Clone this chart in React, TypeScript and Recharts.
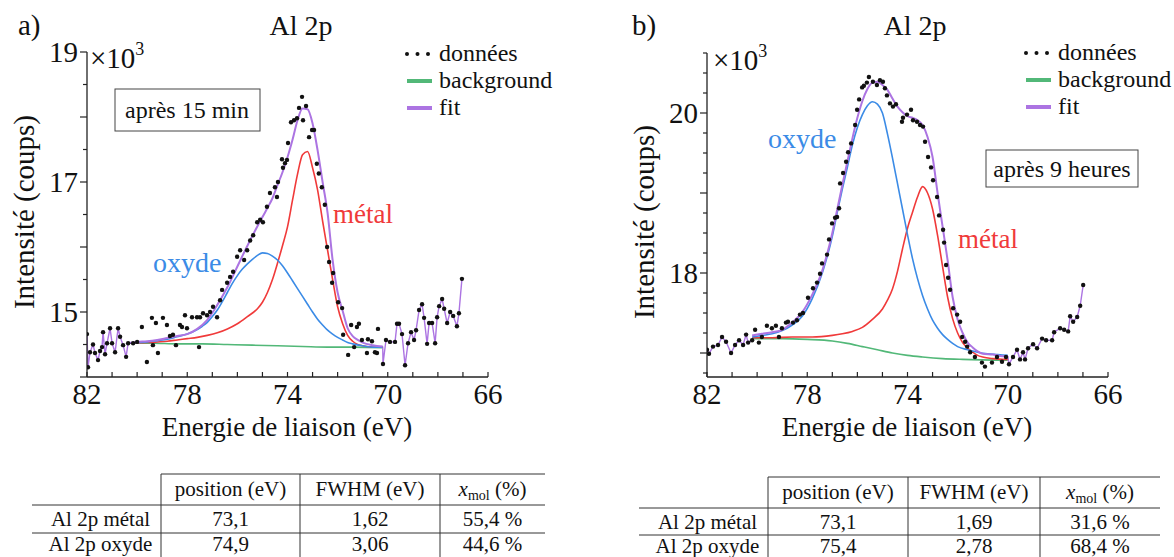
import { ComposedChart, Line, XAxis, YAxis } from "recharts";

type Pt = [number, number];

const SERIF = '"Liberation Serif", serif';

// energies (eV) / intensities (x10^3 coups)
// ---- a) après 15 min
const donneesA: Pt[] = [
	[82.0, 14.66], [81.96, 14.15], [81.88, 14.38], [81.76, 14.5], [81.68, 14.37], [81.56, 14.26],
	[81.48, 14.4], [81.4, 14.46], [81.36, 14.69], [81.28, 14.35], [81.2, 14.52], [81.08, 14.75],
	[81.0, 14.52], [80.88, 14.38], [80.76, 14.75], [80.68, 14.62], [80.56, 14.49], [80.44, 14.31],
	[80.36, 14.52], [80.16, 14.52], [80.0, 14.54], [79.81, 14.77], [79.61, 14.23], [79.41, 14.91],
	[79.37, 14.49], [79.25, 14.83], [79.17, 14.37], [78.97, 14.91], [78.81, 14.8], [78.69, 14.63],
	[78.57, 14.65], [78.45, 14.49], [78.29, 14.8], [78.21, 14.77], [78.09, 14.95], [78.01, 14.75],
	[77.81, 14.92], [77.61, 14.92], [77.53, 14.46], [77.49, 14.92], [77.37, 14.98], [77.21, 14.95],
	[77.09, 15.0], [76.97, 15.08], [76.81, 14.92], [76.69, 15.18], [76.61, 15.34], [76.41, 15.45],
	[76.29, 15.54], [76.17, 15.62], [76.01, 15.85], [75.89, 15.95], [75.73, 15.8], [75.61, 15.95],
	[75.49, 16.1], [75.37, 16.18], [75.21, 16.38], [75.09, 16.42], [74.98, 16.38], [74.82, 16.62],
	[74.7, 16.83], [74.5, 16.92], [74.42, 16.77], [74.38, 17.0], [74.22, 17.35], [74.18, 17.22],
	[74.1, 17.29], [74.02, 17.34], [73.98, 17.6], [73.86, 17.92], [73.74, 17.95], [73.62, 17.98],
	[73.54, 18.14], [73.42, 18.31], [73.38, 17.95], [73.26, 18.17], [73.14, 17.69], [73.02, 17.8],
	[72.94, 17.8], [72.83, 17.28], [72.75, 17.13], [72.63, 16.92], [72.51, 16.65], [72.42, 16.0],
	[72.34, 15.77], [72.22, 15.45], [72.18, 15.6], [71.98, 15.15], [71.82, 15.06], [71.78, 14.65],
	[71.58, 14.34], [71.46, 14.8], [71.34, 14.46], [71.23, 14.77], [71.15, 14.82], [71.03, 14.57],
	[70.83, 14.37], [70.79, 14.58], [70.63, 14.55], [70.51, 14.38], [70.43, 14.37], [70.39, 14.74],
	[70.19, 14.2], [70.07, 14.57], [69.91, 14.54], [69.71, 14.54], [69.63, 14.82], [69.55, 14.82],
	[69.43, 14.66], [69.31, 14.18], [69.19, 14.52], [69.07, 14.69], [68.95, 14.57], [68.87, 14.72],
	[68.75, 15.03], [68.63, 15.12], [68.55, 14.91], [68.43, 14.51], [68.35, 14.83], [68.23, 14.83],
	[68.11, 14.52], [68.03, 14.92], [67.95, 15.09], [67.83, 15.2], [67.75, 15.05], [67.63, 14.83],
	[67.51, 15.0], [67.39, 14.94], [67.24, 14.78], [67.16, 14.98], [67.04, 15.51],
];
const fitA: Pt[] = [
	[80.4, 14.52], [80.0, 14.54], [79.6, 14.55], [79.2, 14.57], [78.8, 14.6], [78.4, 14.63],
	[78.0, 14.66], [77.6, 14.74], [77.2, 14.88], [76.8, 15.11], [76.4, 15.38], [76.0, 15.7],
	[75.6, 16.02], [75.2, 16.32], [74.8, 16.6], [74.6, 16.75], [74.4, 16.95], [74.2, 17.15],
	[74.0, 17.38], [73.8, 17.65], [73.6, 17.95], [73.4, 18.13], [73.2, 18.12], [73.0, 17.9],
	[72.8, 17.49], [72.6, 17.0], [72.4, 16.52], [72.2, 15.8], [72.0, 15.3], [71.8, 15.02],
	[71.6, 14.75], [71.4, 14.63], [71.2, 14.57], [71.0, 14.53], [70.6, 14.49], [70.2, 14.47],
];
const metalA: Pt[] = [
	[80.4, 14.52], [79.6, 14.53], [78.8, 14.55], [78.4, 14.57], [78.0, 14.59], [77.6, 14.61],
	[77.2, 14.64], [76.8, 14.68], [76.4, 14.74], [76.0, 14.82], [75.6, 14.93], [75.2, 15.05],
	[75.0, 15.15], [74.8, 15.3], [74.6, 15.5], [74.4, 15.75], [74.2, 16.02], [74.0, 16.31],
	[73.8, 16.72], [73.6, 17.12], [73.4, 17.42], [73.2, 17.47], [73.0, 17.22], [72.8, 16.88],
	[72.6, 16.4], [72.4, 15.95], [72.2, 15.5], [72.0, 15.08], [71.8, 14.82], [71.6, 14.64],
	[71.4, 14.55], [71.2, 14.5], [71.0, 14.48], [70.6, 14.46], [70.2, 14.46],
];
const oxydeA: Pt[] = [
	[80.4, 14.52], [80.0, 14.53], [79.6, 14.54], [79.2, 14.56], [78.8, 14.58], [78.4, 14.62],
	[78.0, 14.66], [77.6, 14.73], [77.4, 14.78], [77.2, 14.84], [77.0, 14.93], [76.8, 15.03],
	[76.6, 15.16], [76.4, 15.3], [76.2, 15.44], [76.0, 15.56], [75.8, 15.66], [75.6, 15.74],
	[75.4, 15.81], [75.2, 15.87], [75.0, 15.91], [74.8, 15.9], [74.6, 15.86], [74.4, 15.8],
	[74.2, 15.71], [74.0, 15.6], [73.8, 15.48], [73.6, 15.36], [73.4, 15.24], [73.2, 15.12],
	[73.0, 15.0], [72.8, 14.89], [72.6, 14.8], [72.4, 14.72], [72.2, 14.66], [72.0, 14.61],
	[71.8, 14.57], [71.6, 14.53], [71.4, 14.51], [71.0, 14.48], [70.6, 14.46], [70.2, 14.46],
];
const backgroundA: Pt[] = [
	[80.4, 14.52], [79.4, 14.52], [78.4, 14.51], [77.4, 14.51], [76.4, 14.5], [75.4, 14.49],
	[74.4, 14.48], [73.4, 14.47], [72.4, 14.46], [71.4, 14.46], [70.2, 14.45],
];

// ---- b) après 9 heures
const donneesB: Pt[] = [
	[82.0, 17.04], [81.92, 16.99], [81.76, 17.08], [81.56, 17.1], [81.4, 17.2], [81.24, 17.14],
	[81.04, 17.0], [80.88, 17.1], [80.72, 17.16], [80.56, 17.1], [80.44, 17.23], [80.36, 17.13],
	[80.2, 17.16], [80.08, 17.29], [79.93, 17.13], [79.81, 17.2], [79.61, 17.34], [79.41, 17.31],
	[79.25, 17.34], [79.13, 17.2], [79.01, 17.31], [78.85, 17.38], [78.77, 17.39], [78.57, 17.38],
	[78.41, 17.41], [78.29, 17.48], [78.17, 17.5], [77.97, 17.69], [77.77, 17.81], [77.61, 17.88],
	[77.49, 17.99], [77.41, 18.12], [77.21, 18.23], [77.13, 18.42], [77.01, 18.62], [76.89, 18.69],
	[76.81, 18.7], [76.73, 18.81], [76.69, 19.12], [76.57, 19.25], [76.45, 19.39], [76.37, 19.51],
	[76.25, 19.62], [76.09, 19.85], [76.01, 20.04], [75.93, 20.17], [75.81, 20.32], [75.74, 20.34],
	[75.62, 20.38], [75.54, 20.45], [75.38, 20.39], [75.22, 20.35], [75.1, 20.41], [74.98, 20.39],
	[74.9, 20.31], [74.82, 20.22], [74.7, 20.12], [74.58, 20.08], [74.46, 20.11], [74.22, 19.89],
	[74.18, 19.94], [74.02, 19.98], [73.86, 20.04], [73.78, 19.91], [73.62, 19.89], [73.5, 19.85],
	[73.38, 19.83], [73.3, 19.64], [73.18, 19.45], [73.06, 19.32], [72.98, 19.16], [72.82, 18.95],
	[72.74, 18.72], [72.58, 18.54], [72.54, 18.38], [72.46, 18.1], [72.38, 17.94], [72.3, 17.79],
	[72.18, 17.56], [72.02, 17.48], [71.9, 17.39], [71.82, 17.2], [71.7, 17.14], [71.62, 17.08],
	[71.5, 17.01], [71.31, 16.95], [71.03, 16.88], [70.91, 16.83], [70.63, 16.88], [70.43, 16.95],
	[70.23, 16.89], [70.07, 16.95], [69.95, 16.86], [69.79, 16.95], [69.63, 17.04], [69.51, 16.92],
	[69.39, 17.01], [69.31, 16.92], [69.19, 17.06], [68.99, 17.11], [68.83, 17.06], [68.63, 17.18],
	[68.47, 17.16], [68.23, 17.16], [68.15, 17.26], [67.91, 17.31], [67.75, 17.29], [67.59, 17.27],
	[67.51, 17.46], [67.39, 17.39], [67.23, 17.45], [67.11, 17.59], [66.99, 17.85],
];
const fitB: Pt[] = [
	[80.2, 17.22], [79.8, 17.24], [79.4, 17.26], [79.0, 17.29], [78.6, 17.38], [78.2, 17.51],
	[77.8, 17.73], [77.4, 18.03], [77.0, 18.5], [76.8, 18.8], [76.6, 19.1], [76.4, 19.39],
	[76.2, 19.68], [76.0, 19.94], [75.8, 20.15], [75.6, 20.3], [75.4, 20.38], [75.2, 20.39],
	[75.0, 20.35], [74.8, 20.29], [74.6, 20.18], [74.4, 20.08], [74.2, 20.01], [74.0, 19.96],
	[73.8, 19.94], [73.6, 19.91], [73.4, 19.85], [73.2, 19.7], [73.0, 19.45], [72.8, 19.0],
	[72.6, 18.58], [72.4, 18.16], [72.2, 17.7], [72.0, 17.42], [71.8, 17.25], [71.6, 17.13],
	[71.4, 17.07], [71.2, 17.02], [71.0, 16.99], [70.6, 16.98], [70.2, 16.96], [70.0, 16.96],
];
const metalB: Pt[] = [
	[80.2, 17.19], [79.4, 17.19], [78.6, 17.2], [77.8, 17.2], [77.0, 17.22], [76.6, 17.24],
	[76.2, 17.27], [75.8, 17.32], [75.4, 17.42], [75.0, 17.55], [74.8, 17.66], [74.6, 17.8],
	[74.4, 18.02], [74.2, 18.3], [74.0, 18.56], [73.8, 18.76], [73.6, 18.95], [73.4, 19.08],
	[73.2, 19.0], [73.0, 18.8], [72.8, 18.47], [72.6, 18.08], [72.4, 17.7], [72.2, 17.43],
	[72.0, 17.25], [71.8, 17.13], [71.6, 17.06], [71.4, 17.01], [71.2, 16.97], [71.0, 16.95],
	[70.6, 16.93], [70.2, 16.92], [70.0, 16.92],
];
const oxydeB: Pt[] = [
	[80.2, 17.2], [79.8, 17.22], [79.4, 17.24], [79.0, 17.28], [78.6, 17.35], [78.2, 17.46],
	[77.8, 17.68], [77.4, 18.0], [77.0, 18.46], [76.8, 18.76], [76.6, 19.05], [76.4, 19.32],
	[76.2, 19.6], [76.0, 19.82], [75.8, 19.98], [75.6, 20.09], [75.4, 20.14], [75.2, 20.11],
	[75.0, 20.0], [74.8, 19.74], [74.6, 19.44], [74.4, 19.12], [74.2, 18.8], [74.0, 18.48],
	[73.8, 18.18], [73.6, 17.93], [73.4, 17.72], [73.2, 17.55], [73.0, 17.41], [72.8, 17.31],
	[72.6, 17.23], [72.4, 17.17], [72.2, 17.12], [72.0, 17.08], [71.6, 17.04], [71.2, 17.01],
	[70.8, 16.99], [70.4, 16.98], [70.0, 16.97],
];
const backgroundB: Pt[] = [
	[80.2, 17.18], [79.0, 17.18], [78.0, 17.17], [77.0, 17.15], [76.4, 17.12], [75.8, 17.08],
	[75.2, 17.04], [74.6, 17.0], [74.0, 16.97], [73.4, 16.95], [72.6, 16.93], [71.8, 16.92],
	[70.0, 16.91],
];

// axes
const xTicks = [66, 67, 68, 69, 70, 71, 72, 73, 74, 75, 76, 77, 78, 79, 80, 81, 82];
const xLabels = [82, 78, 74, 70, 66];
const yTicksA = [14, 14.5, 15, 15.5, 16, 16.5, 17, 17.5, 18, 18.5, 19];
const yLabelsA = [15, 17, 19];
const yTicksB = [16.75, 17, 17.25, 17.5, 17.75, 18, 18.25, 18.5, 18.75, 19, 19.25, 19.5, 19.75, 20, 20.25, 20.5, 20.75];
const yLabelsB = [18, 20];

// tables
const tableHeaders = ["position (eV)", "FWHM (eV)"];
const rowNames = ["Al 2p métal", "Al 2p oxyde"];
const tableA = [["73,1", "1,62", "55,4 %"], ["74,9", "3,06", "44,6 %"]];
const tableB = [["73,1", "1,69", "31,6 %"], ["75,4", "2,78", "68,4 %"]];

const GREEN = "#52b878";
const PURPLE = "#ac74e2";
const RED = "#f03a3a";
const BLUE = "#3b8be6";
const INK = "#111";

const rows = (pts: Pt[]) => pts.map(([e, v]) => ({ e, v }));

function xTick(props: any) {
	const { x, y, payload } = props;
	const v = payload.value;
	return (
		<g>
			<line x1={x} x2={x} y1={y} y2={y - 5} stroke="#222" strokeWidth={1.2} />
			{xLabels.includes(v) && (
				<text x={x} y={y + 27} textAnchor="middle" fontSize={29} fontFamily={SERIF} fill={INK}>
					{v}
				</text>
			)}
		</g>
	);
}

const yTick = (labels: number[]) => (props: any) => {
	const { x, y, payload } = props;
	const v = payload.value;
	const major = Math.abs(v - Math.round(v)) < 1e-6;
	return (
		<g>
			<line x1={x - (major ? 7 : 4)} x2={x} y1={y} y2={y} stroke="#222" strokeWidth={1.2} />
			{labels.includes(v) && (
				<text x={x - 9} y={y + 10} textAnchor="end" fontSize={29} fontFamily={SERIF} fill={INK}>
					{v}
				</text>
			)}
		</g>
	);
};

function Panel(props: {
	left: number;
	width: number;
	margin: { top: number; right: number; bottom: number; left: number };
	yDomain: [number, number];
	yTicks: number[];
	yLabels: number[];
	donnees: Pt[];
	fit: Pt[];
	metal: Pt[];
	oxyde: Pt[];
	background: Pt[];
}) {
	const { donnees, fit } = props;
	const eStart = fit[0][0];
	const eEnd = fit[fit.length - 1][0];
	const edgeLeft = rows(donnees.filter(([e]) => e >= eStart - 0.05));
	const edgeRight = rows([fit[fit.length - 1], ...donnees.filter(([e]) => e < eEnd)]);
	return (
		<div style={{ position: "absolute", left: props.left, top: 0 }}>
			<ComposedChart width={props.width} height={440} margin={props.margin}>
				<XAxis
					dataKey="e"
					type="number"
					domain={[66, 82]}
					reversed
					ticks={xTicks}
					interval={0}
					tickSize={0}
					tickMargin={0}
					tickLine={false}
					height={40}
					allowDataOverflow
					axisLine={{ stroke: "#222", strokeWidth: 1.3 }}
					tick={xTick}
				/>
				<YAxis
					type="number"
					domain={props.yDomain}
					ticks={props.yTicks}
					interval={0}
					tickSize={0}
					tickMargin={0}
					tickLine={false}
					width={40}
					allowDataOverflow
					axisLine={{ stroke: "#222", strokeWidth: 1.3 }}
					tick={yTick(props.yLabels)}
				/>
				<Line data={rows(props.background)} dataKey="v" type="monotone" stroke={GREEN} strokeWidth={1.6} dot={false} activeDot={false} isAnimationActive={false} />
				<Line data={edgeLeft} dataKey="v" type="linear" stroke={PURPLE} strokeWidth={1.4} dot={false} activeDot={false} isAnimationActive={false} />
				<Line data={edgeRight} dataKey="v" type="linear" stroke={PURPLE} strokeWidth={1.4} dot={false} activeDot={false} isAnimationActive={false} />
				<Line data={rows(props.metal)} dataKey="v" type="monotone" stroke={RED} strokeWidth={1.6} dot={false} activeDot={false} isAnimationActive={false} />
				<Line data={rows(props.oxyde)} dataKey="v" type="monotone" stroke={BLUE} strokeWidth={1.6} dot={false} activeDot={false} isAnimationActive={false} />
				<Line data={rows(fit)} dataKey="v" type="monotone" stroke={PURPLE} strokeWidth={2} dot={false} activeDot={false} isAnimationActive={false} />
				<Line
					data={rows(donnees)}
					dataKey="v"
					stroke="none"
					dot={{ r: 2.2, fill: INK, stroke: "none" }}
					activeDot={false}
					isAnimationActive={false}
				/>
			</ComposedChart>
		</div>
	);
}

function Legend({ x, y }: { x: number; y: number }) {
	return (
		<g fontSize={24} fill={INK} fontFamily={SERIF}>
			{[0, 10.5, 21].map((d) => (
				<circle key={d} cx={x + d} cy={y} r={2} fill={INK} />
			))}
			<text x={x + 32} y={y + 7}>données</text>
			<line x1={x} x2={x + 25} y1={y + 27} y2={y + 27} stroke={GREEN} strokeWidth={4} />
			<text x={x + 32} y={y + 34}>background</text>
			<line x1={x} x2={x + 25} y1={y + 54} y2={y + 54} stroke={PURPLE} strokeWidth={4} />
			<text x={x + 32} y={y + 61}>fit</text>
		</g>
	);
}

function Table(props: {
	x0: number;
	c1: number;
	c2: number;
	c3: number;
	x1: number;
	top: number;
	rowH: number;
	values: string[][];
}) {
	const { x0, c1, c2, c3, x1, top, rowH, values } = props;
	const h1 = top + 31;
	const h2 = h1 + rowH;
	const centers = [(c1 + c2) / 2, (c2 + c3) / 2, (c3 + x1) / 2];
	const ys = [top + 22, h1 + 21, h2 + 18];
	return (
		<g fontSize={21} fill={INK} fontFamily={SERIF}>
			<line x1={c1} x2={x1} y1={top} y2={top} stroke="#333" strokeWidth={1} />
			<line x1={x0} x2={x1} y1={h1} y2={h1} stroke="#333" strokeWidth={1} />
			<line x1={x0} x2={x1} y1={h2} y2={h2} stroke="#333" strokeWidth={1} />
			{[c1, c2, c3].map((cx) => (
				<line key={cx} x1={cx} x2={cx} y1={top} y2={560} stroke="#333" strokeWidth={1} />
			))}
			{tableHeaders.map((t, i) => (
				<text key={t} x={centers[i]} y={ys[0]} textAnchor="middle">{t}</text>
			))}
			<text x={centers[2]} y={ys[0]} textAnchor="middle">
				<tspan fontStyle="italic">x</tspan>
				<tspan fontSize={14} dy={4}>mol</tspan>
				<tspan dy={-4}> (%)</tspan>
			</text>
			{rowNames.map((name, r) => (
				<g key={name}>
					<text x={(x0 + c1) / 2 + 4} y={ys[r + 1]} textAnchor="middle">{name}</text>
					{values[r].map((v, i) => (
						<text key={i} x={centers[i]} y={ys[r + 1]} textAnchor="middle">{v}</text>
					))}
				</g>
			))}
		</g>
	);
}

export default function App() {
	return (
		<div style={{ position: "absolute", left: 0, top: 0, width: 1174, height: 557, background: "#fff", overflow: "hidden", fontFamily: SERIF }}>
			<Panel
				left={0}
				width={560}
				margin={{ top: 52, right: 72, bottom: 23, left: 47 }}
				yDomain={[14, 19]}
				yTicks={yTicksA}
				yLabels={yLabelsA}
				donnees={donneesA}
				fit={fitA}
				metal={metalA}
				oxyde={oxydeA}
				background={backgroundA}
			/>
			<Panel
				left={600}
				width={574}
				margin={{ top: 53, right: 66, bottom: 23, left: 67 }}
				yDomain={[16.7, 20.75]}
				yTicks={yTicksB}
				yLabels={yLabelsB}
				donnees={donneesB}
				fit={fitB}
				metal={metalB}
				oxyde={oxydeB}
				background={backgroundB}
			/>
			<svg width={1174} height={557} style={{ position: "absolute", left: 0, top: 0, pointerEvents: "none" }}>
				<g fill={INK} fontFamily={SERIF}>
					<text x={18} y={35} fontSize={29}>a)</text>
					<text x={632} y={35} fontSize={29}>b)</text>
					<text x={301} y={35} fontSize={28} textAnchor="middle">Al 2p</text>
					<text x={915} y={35} fontSize={28} textAnchor="middle">Al 2p</text>
					<text x={90} y={68} fontSize={29}>
						×10<tspan fontSize={18} dy={-13}>3</tspan>
					</text>
					<text x={713} y={70} fontSize={29}>
						×10<tspan fontSize={18} dy={-13}>3</tspan>
					</text>
					<text x={34} y={212} fontSize={29} textAnchor="middle" transform="rotate(-90 34 212)">Intensité (coups)</text>
					<text x={654} y={222} fontSize={29} textAnchor="middle" transform="rotate(-90 654 222)">Intensité (coups)</text>
					<text x={287} y={436} fontSize={27} textAnchor="middle">Energie de liaison (eV)</text>
					<text x={907} y={436} fontSize={27} textAnchor="middle">Energie de liaison (eV)</text>
					<rect x={115} y={89} width={145} height={42} fill="#fff" stroke="#444" strokeWidth={1} />
					<text x={187} y={118} fontSize={24} textAnchor="middle">après 15 min</text>
					<rect x={986} y={150} width={152} height={37} fill="#fff" stroke="#444" strokeWidth={1} />
					<text x={1062} y={177} fontSize={24} textAnchor="middle">après 9 heures</text>
					<text x={333} y={223} fontSize={27} fill={RED}>métal</text>
					<text x={153} y={272} fontSize={28} fill={BLUE}>oxyde</text>
					<text x={768} y={148} fontSize={28} fill={BLUE}>oxyde</text>
					<text x={958} y={248} fontSize={27} fill={RED}>métal</text>
				</g>
				<Legend x={407} y={54} />
				<Legend x={1026} y={53} />
				<Table x0={32} c1={161} c2={300} c3={440} x1={545} top={474} rowH={28} values={tableA} />
				<Table x0={639} c1={768} c2={908} c3={1040} x1={1160} top={477} rowH={27} values={tableB} />
			</svg>
		</div>
	);
}
